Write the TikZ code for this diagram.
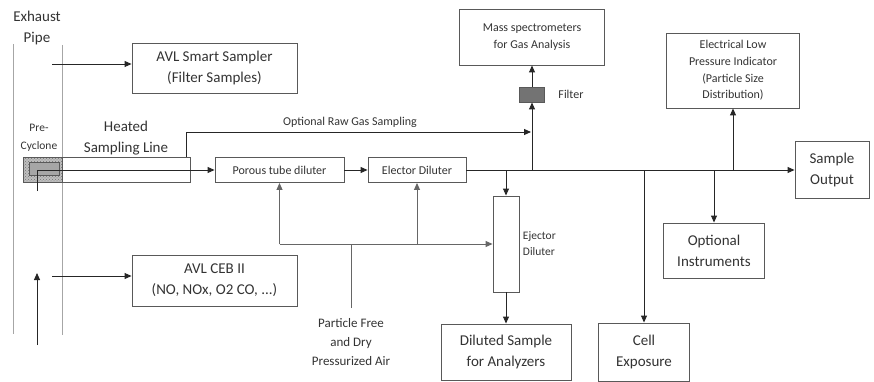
\documentclass[tikz,border=0pt]{standalone}
\usepackage{fontspec}
\setmainfont{Carlito}
\usepackage{tikz}
\usetikzlibrary{arrows.meta, positioning, patterns}

\begin{document}
\begin{tikzpicture}[
    x=1pt, y=-1pt,
    box/.style={rectangle, draw=black!65, line width=0.9pt,
                inner sep=0pt, align=center, text=black!80,
                font=\fontsize{15}{21}\selectfont},
    smallbox/.style={box, font=\fontsize{12}{16.7}\selectfont},
    ann/.style={text=black!80, align=center,
                font=\fontsize{12}{16.7}\selectfont},
    arr/.style={-{Triangle[length=7pt, width=6pt]}, line width=0.9pt, draw=black!85},
    airarr/.style={arr, draw=black!60},
    air/.style={line width=1pt, draw=black!60},
    pipe/.style={line width=1pt, draw=black!35},
  ]
    \useasboundingbox (0,0) rectangle (874,382);

    % exhaust pipe walls
    \draw[pipe] (13,44) -- (13,334);
    \draw[pipe] (62,45) -- (62,335);
    \node[ann, font=\fontsize{15}{21}\selectfont] (pipelbl) at (37,28.5) {Exhaust\\Pipe};

    % sampling line and pre-cyclone
    \node[box, minimum width=128pt, minimum height=25pt] (heat) at (126,170) {};
    \node[box, minimum width=39pt, minimum height=25pt,
          preaction={fill=black!25}, pattern=crosshatch dots,
          pattern color=black!55] (cyc) at (42.5,170) {};
    \node[box, minimum width=30pt, minimum height=13pt, fill=black!35] (cycin) at (44,168.5) {};
    \node[ann, font=\fontsize{11.5}{18}\selectfont] (cyclbl) at (39,138) {Pre-\\Cyclone};
    \node[ann, font=\fontsize{15}{21}\selectfont] (heatlbl) at (126,138.5) {Heated\\Sampling Line};

    \node[box, minimum width=165pt, minimum height=50pt] (smart) at (214.5,68)
      {AVL Smart Sampler\\(Filter Samples)};
    \node[box, minimum width=165pt, minimum height=51pt] (ceb) at (214.5,280.5)
      {AVL CEB II\\(NO, NOx, O2 CO, ...)};

    % dilution chain
    \node[smallbox, minimum width=129pt, minimum height=25pt] (porous) at (279.5,170)
      {Porous tube diluter};
    \node[smallbox, minimum width=98pt, minimum height=25pt] (elector) at (417,170)
      {Elector Diluter};
    \node[smallbox, minimum width=26pt, minimum height=96pt] (ejector) at (506,244) {};
    \node[ann, right=0pt of ejector, font=\fontsize{11.5}{16}\selectfont,
          align=left] (ejlbl) {Ejector\\Diluter};

    \node[smallbox, minimum width=25pt, minimum height=15pt, fill=black!55] (filt) at (532,94.5) {};
    \node[ann, right=10pt of filt] (filtlbl) {Filter};
    \node[smallbox, minimum width=145pt, minimum height=56pt] (mass) at (532,37)
      {Mass spectrometers\\for Gas Analysis};

    \node[smallbox, minimum width=133pt, minimum height=75pt] (elpi) at (733,70.5)
      {Electrical Low\\Pressure Indicator\\(Particle Size\\Distribution)};
    \node[box, minimum width=74pt, minimum height=57pt] (out) at (832,170)
      {Sample\\Output};
    \node[box, minimum width=101pt, minimum height=55pt] (opt) at (714,250.5)
      {Optional\\Instruments};
    \node[box, minimum width=130pt, minimum height=56pt] (diluted) at (506,352)
      {Diluted Sample\\for Analyzers};
    \node[box, minimum width=91pt, minimum height=58pt] (cell) at (644,352)
      {Cell\\Exposure};

    \node[ann, font=\fontsize{13}{19}\selectfont] (airlbl) at (351,342)
      {Particle Free\\and Dry\\Pressurized Air};
    \node[ann] (rawlbl) at (350,122) {Optional Raw Gas Sampling};

    \coordinate (smartsrc) at (52,64);
    \coordinate (cebsrc) at (52,276);
    \coordinate (flowin) at (37,345);
    \coordinate (flowtip) at (37,273);
    \coordinate (cycbot) at (37,191);
    \coordinate (rawtap) at (186,157);
    \coordinate (rawend) at (531,132);
    \coordinate (airsrc) at (351,308);

    % sample flow
    \draw[arr] (smartsrc) -- (smartsrc -| smart.west);
    \draw[arr] (cebsrc) -- (cebsrc -| ceb.west);
    \draw[arr] (flowin) -- (flowtip);
    \draw[arr] (cycbot) |- (porous.west);
    \draw[arr] (porous.east) -- (elector.west);
    \draw[arr] (elector.east) -- (out.west);
    \draw[arr] (rawtap) |- (rawend);

    % branches off the main line
    \draw[arr] (filt.south |- elector.east) -- (filt.south);
    \draw[arr] (filt.north) -- (mass.south);
    \draw[arr] (ejector.north |- elector.east) -- (ejector.north);
    \draw[arr] (ejector.south) -- (diluted.north);
    \draw[arr] (cell.north |- elector.east) -- (cell.north);
    \draw[arr] (opt.north |- elector.east) -- (opt.north);
    \draw[arr] (elpi.south |- elector.east) -- (elpi.south);

    % dilution air
    \draw[air] (airsrc) -- (airsrc |- ejector.west);
    \draw[airarr] (porous.south |- ejector.west) -- (ejector.west);
    \draw[airarr] (porous.south |- ejector.west) -- (porous.south);
    \draw[airarr] (elector.south |- ejector.west) -- (elector.south);
\end{tikzpicture}
\end{document}
